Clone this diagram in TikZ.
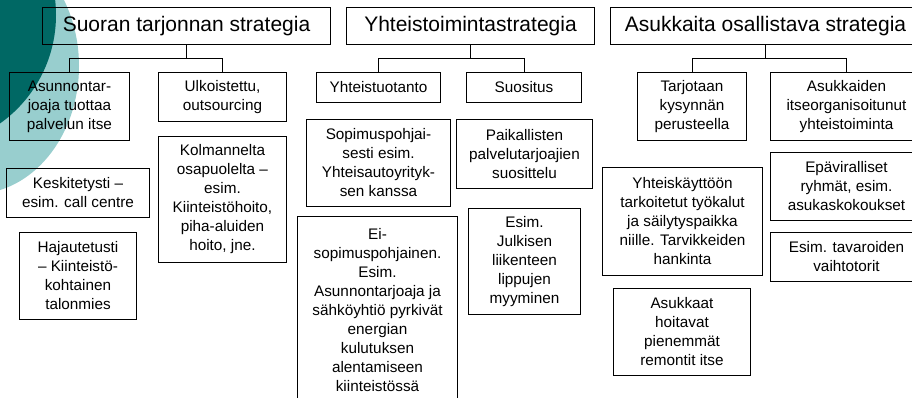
\documentclass[tikz,border=0pt]{standalone}
\usepackage{fontspec}
\setmainfont{Liberation Sans}
\usepackage{xcolor}
\usepackage{tikz}
\usetikzlibrary{shapes,positioning,calc}
\definecolor{tealdark}{RGB}{0,104,100}
\definecolor{teallight}{RGB}{152,206,206}

\tikzset{
  hdr/.style={draw, line width=1pt, anchor=north west, inner sep=0pt,
    font=\fontsize{21}{25}\selectfont},
  cell/.style={draw, line width=1pt, anchor=north west, inner sep=0pt, align=center,
    font=\fontsize{15.3}{19}\selectfont},
  link/.style={line width=1pt}
}

\begin{document}
\begin{tikzpicture}[x=1pt,y=-1pt]
\useasboundingbox (0,0) rectangle (912,398);
% decoration in the corner
\fill[teallight] (-26,66) ellipse [x radius=105, y radius=128];
\fill[tealdark] (-77,15) circle [radius=133];

% headings
\node[hdr, minimum width=288pt, minimum height=37pt] (suora) at (42,7) {Suoran tarjonnan strategia};
\node[hdr, minimum width=248pt, minimum height=37pt] (yhteis) at (346,7) {Yhteistoimintastrategia};
\node[hdr, minimum width=310pt, minimum height=37pt] (osallis) at (610,7) {Asukkaita osallistava strategia};

% first column
\node[cell, minimum width=120pt, minimum height=68pt] (itse) at (9,72) {Asunnontar-\\joaja tuottaa\\palvelun itse};
\node[cell, minimum width=128pt, minimum height=49pt] (ulko) at (158,72) {Ulkoistettu,\\outsourcing};
\node[cell, minimum width=128pt, minimum height=126pt] (kolmas) at (158,136) {Kolmannelta\\osapuolelta –\\esim.\\Kiinteistöhoito,\\piha-aluiden\\hoito, jne.};
\node[cell, minimum width=143pt, minimum height=49pt] (keski) at (6,168) {Keskitetysti –\\esim. call centre};
\node[cell, minimum width=117pt, minimum height=87pt] (hajau) at (19,232) {Hajautetusti\\– Kiinteistö-\\kohtainen\\talonmies};

% second column
\node[cell, minimum width=124pt, minimum height=30pt] (tuotanto) at (316,72) {Yhteistuotanto};
\node[cell, minimum width=115pt, minimum height=30pt] (suositus) at (466,72) {Suositus};
\node[cell, minimum width=144pt, minimum height=87pt] (sopimus) at (306,119) {Sopimuspohjai-\\sesti esim.\\Yhteisautoyrityk-\\sen kanssa};
\node[cell, minimum width=136pt, minimum height=69pt] (paikal) at (456,119) {Paikallisten\\palvelutarjoajien\\suosittelu};
\node[cell, minimum width=160pt, minimum height=188pt] (eisopimus) at (297,216) {Ei-\\sopimuspohjainen.\\Esim.\\Asunnontarjoaja ja\\sähköyhtiö pyrkivät\\energian\\kulutuksen\\alentamiseen\\kiinteistössä};
\node[cell, minimum width=112pt, minimum height=106pt] (julkinen) at (468,208) {Esim.\\Julkisen\\liikenteen\\lippujen\\myyminen};

% third column
\node[cell, minimum width=109pt, minimum height=68pt] (kysynta) at (637,72) {Tarjotaan\\kysynnän\\perusteella};
\node[cell, minimum width=152pt, minimum height=68pt] (itseorg) at (770,72) {Asukkaiden\\itseorganisoitunut\\yhteistoiminta};
\node[cell, minimum width=160pt, minimum height=108pt] (tyokalut) at (602,167) {Yhteiskäyttöön\\tarkoitetut työkalut\\ja säilytyspaikka\\niille. Tarvikkeiden\\hankinta};
\node[cell, minimum width=152pt, minimum height=68pt] (ryhmat) at (770,152) {Epäviralliset\\ryhmät, esim.\\asukaskokoukset};
\node[cell, minimum width=152pt, minimum height=49pt] (vaihto) at (770,232) {Esim. tavaroiden\\vaihtotorit};
\node[cell, minimum width=137pt, minimum height=87pt] (remontit) at (613,288) {Asukkaat\\hoitavat\\pienemmät\\remontit itse};

% org chart links
\draw[link] (suora.south) -- ++(0,14) -| (itse.north);
\draw[link] (suora.south) -- ++(0,14) -| (ulko.north);
\draw[link] (yhteis.south) -- ++(0,14) -| (tuotanto.north);
\draw[link] (yhteis.south) -- ++(0,14) -| (suositus.north);
\draw[link] (osallis.south) -- ++(0,14) -| (kysynta.north);
\draw[link] (osallis.south) -- ++(0,14) -| (itseorg.north);
\end{tikzpicture}
\end{document}
